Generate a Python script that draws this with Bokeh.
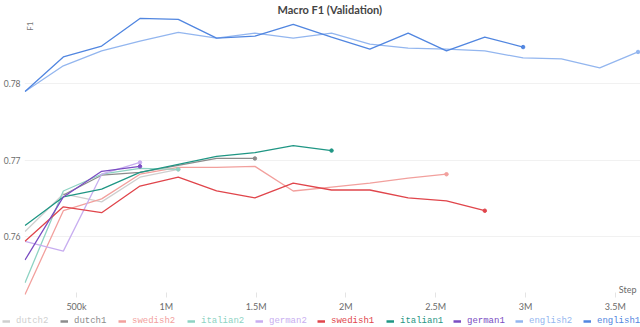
from bokeh.plotting import figure
from bokeh.models import Range1d, FixedTicker, Legend, LegendItem, Label
from bokeh.embed import file_html
from bokeh.resources import INLINE

# ---- data ----
steps = [213333, 426667, 640000, 853333, 1066667, 1280000, 1493333, 1706667,
         1920000, 2133333, 2346667, 2560000, 2773333, 2986667, 3200000,
         3413333, 3626667]

dutch2 = [0.76068, 0.76558, 0.76455, 0.76777, 0.76880]
dutch1 = [0.76545, 0.76803, 0.76841, 0.76932, 0.77022, 0.77022]          # from steps[1]
swedish2 = [0.75244, 0.76339, 0.76494, 0.76816, 0.76906, 0.76906, 0.76919,
            0.76597, 0.76648, 0.76700, 0.76764, 0.76816]
italian2 = [0.75398, 0.76597, 0.76816, 0.76893, 0.76880]
german2 = [0.75940, 0.75811, 0.76816, 0.76970]
swedish1 = [0.75940, 0.76390, 0.76313, 0.76661, 0.76777, 0.76597, 0.76506,
            0.76700, 0.76610, 0.76610, 0.76506, 0.76468, 0.76339]
italian1 = [0.76146, 0.76519, 0.76622, 0.76841, 0.76945, 0.77048, 0.77099,
            0.77189, 0.77125]
german1 = [0.75695, 0.76519, 0.76854, 0.76919]
english2 = [0.77898, 0.78233, 0.78427, 0.78555, 0.78671, 0.78594, 0.78659,
            0.78594, 0.78659, 0.78517, 0.78465, 0.78452, 0.78427, 0.78336,
            0.78323, 0.78207, 0.78414]
english1 = [0.77898, 0.78349, 0.78491, 0.78852, 0.78839, 0.78594, 0.78620,
            0.78774, 0.78607, 0.78452, 0.78659, 0.78427, 0.78607, 0.78478]

names = ["dutch2", "dutch1", "swedish2", "italian2", "german2",
         "swedish1", "italian1", "german1", "english2", "english1"]
series_x = {
    "dutch2": steps[:len(dutch2)],
    "dutch1": steps[1:1 + len(dutch1)],
    "swedish2": steps[:len(swedish2)],
    "italian2": steps[:len(italian2)],
    "german2": steps[:len(german2)],
    "swedish1": steps[:len(swedish1)],
    "italian1": steps[:len(italian1)],
    "german1": steps[:len(german1)],
    "english2": steps[:len(english2)],
    "english1": steps[:len(english1)],
}
series_y = {"dutch2": dutch2, "dutch1": dutch1, "swedish2": swedish2,
            "italian2": italian2, "german2": german2, "swedish1": swedish1,
            "italian1": italian1, "german1": german1, "english2": english2,
            "english1": english1}
colors = {"dutch2": "#cfcfcf", "dutch1": "#8c8c8c", "swedish2": "#f2a09d",
          "italian2": "#8ed3c3", "german2": "#c8aef0", "swedish1": "#e0454b",
          "italian1": "#1f9684", "german1": "#7a4cc2", "english2": "#93b6ef",
          "english1": "#5186e0"}

x_ticks = [500000, 1000000, 1500000, 2000000, 2500000, 3000000, 3500000]
x_tick_labels = ["500k", "1M", "1.5M", "2M", "2.5M", "3M", "3.5M"]
y_ticks = [0.76, 0.77, 0.78]
y_tick_labels = ["0.76", "0.77", "0.78"]

X0, X1 = 210467, 3640312
Y0, Y1 = 0.752049, 0.788905

p = figure(width=640, height=314, output_backend="svg", toolbar_location=None,
           x_range=Range1d(X0, X1), y_range=Range1d(Y0, Y1),
           min_border_left=24, min_border_right=0, min_border_top=14,
           min_border_bottom=14, title="Macro F1 (Validation)")
p.styles = {"position": "absolute", "left": "0px", "top": "0px"}
p.outline_line_color = None
p.background_fill_color = "white"
p.border_fill_color = "white"

p.title.text_font = "Lato"
p.title.text_font_size = "11px"
p.title.text_font_style = "bold"
p.title.text_color = "#444444"
p.title.align = "left"
p.title.standoff = 0
p.title.offset = 253

p.xaxis.ticker = FixedTicker(ticks=x_ticks)
p.xaxis.major_label_overrides = dict(zip(x_ticks, x_tick_labels))
p.yaxis.ticker = FixedTicker(ticks=y_ticks)
p.yaxis.major_label_overrides = dict(zip(y_ticks, y_tick_labels))
for ax in (p.xaxis, p.yaxis):
    ax.axis_line_color = None
    ax.minor_tick_line_color = None
    ax.major_label_text_font = "Lato"
    ax.major_label_text_font_size = "9px"
    ax.major_label_text_color = "#6b6b6b"
p.yaxis.major_label_text_font_size = "8.5px"
p.xaxis.major_tick_line_color = "#e4e4e4"
p.xaxis.major_tick_in = 5
p.xaxis.major_tick_out = 0
p.xaxis.major_label_standoff = 3
p.yaxis.major_tick_line_color = None
p.yaxis.major_tick_in = 0
p.yaxis.major_tick_out = 0
p.yaxis.major_label_standoff = 4

p.xgrid.grid_line_color = None
p.ygrid.grid_line_color = "#f1f1f1"

# legend strip below the chart (separate root, placed under the chart)
lg = figure(width=640, height=13, output_backend="svg", toolbar_location=None,
            x_range=Range1d(X0, X1), y_range=Range1d(Y0, Y1),
            min_border=0, x_axis_type=None, y_axis_type=None)
lg.styles = {"position": "absolute", "left": "0px", "top": "314px"}
lg.outline_line_color = None
lg.xgrid.grid_line_color = None
lg.ygrid.grid_line_color = None

legend_x = [2, 60, 118, 187, 255, 317, 386, 453, 515, 583]
for i, n in enumerate(names):
    xs, ys = series_x[n], series_y[n]
    p.line(xs, ys, line_color=colors[n], line_width=1.3)
    p.scatter(xs[-1:], ys[-1:], size=3.5, color=colors[n])
    dummy = lg.line(xs, ys, line_color=colors[n], line_width=2.5, visible=False)
    leg = Legend(items=[LegendItem(label=n, renderers=[dummy])],
                 location=(legend_x[i], 0), orientation="horizontal",
                 glyph_width=8, glyph_height=12, label_height=12,
                 label_standoff=6, padding=0, margin=0, spacing=0,
                 border_line_alpha=0, background_fill_alpha=0,
                 label_text_font="Liberation Mono", label_text_font_size="9px",
                 label_text_color=colors[n], label_text_baseline="middle")
    lg.add_layout(leg)

p.add_layout(Label(x=X0, y=Y1, x_offset=5, y_offset=-6, text="F1",
                   angle=1.5708, text_align="right", text_baseline="middle",
                   text_font="Lato", text_font_size="8px", text_color="#777777"))
p.add_layout(Label(x=X1, y=Y0, x_offset=-4, y_offset=8, text="Step",
                   text_align="right", text_baseline="middle",
                   text_font="Lato", text_font_size="9px", text_color="#6b6b6b"))

open("out.html", "w").write(file_html([p, lg], INLINE))
